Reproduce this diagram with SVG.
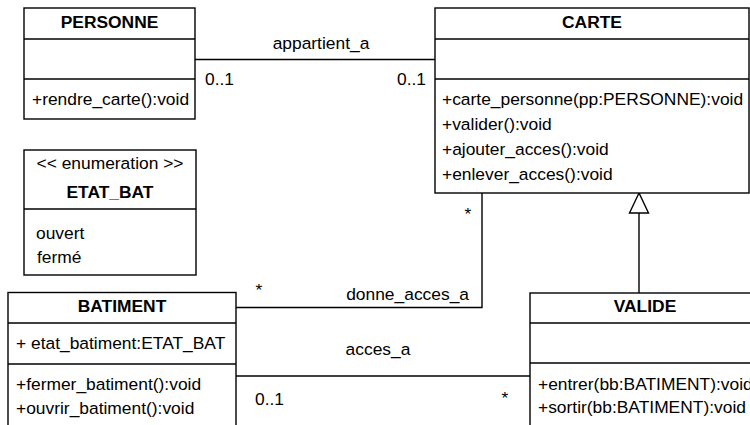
<svg xmlns="http://www.w3.org/2000/svg" width="750" height="425" viewBox="0 0 750 425">
<style>
.box{fill:#fff;stroke:#000;stroke-width:1.4}
.sep{stroke:#000;stroke-width:1.4}
.edge{fill:none;stroke:#000;stroke-width:1.4}
text{font-family:"Liberation Sans",Arial,Helvetica,sans-serif;font-size:17.4px;fill:#000}
.t{font-weight:bold;text-anchor:middle}
.c{text-anchor:middle}
.e{text-anchor:end}
</style>
<rect width="750" height="425" fill="#fff"/>
<g id="connectors">
<line class="edge" x1="195" y1="59.5" x2="435" y2="59.5"/>
<polyline class="edge" points="236,307.5 482,307.5 482,193"/>
<line class="edge" x1="236" y1="376" x2="530" y2="376"/>
<line class="edge" x1="639" y1="293" x2="639" y2="213"/>
<polygon points="639,193 629.5,213 648.5,213" fill="#fff" stroke="#000" stroke-width="1.4"/>
<text x="321" y="49" class="c">appartient_a</text>
<text x="205" y="85">0..1</text>
<text x="397" y="85">0..1</text>
<text x="469" y="300" class="e">donne_acces_a</text>
<text x="259" y="296" class="c">*</text>
<text x="468" y="220" class="c">*</text>
<text x="378" y="355" class="c">acces_a</text>
<text x="255" y="405">0..1</text>
<text x="505" y="404" class="c">*</text>
</g>
<g id="PERSONNE">
<rect class="box" x="24" y="8" width="171" height="111"/>
<line class="sep" x1="24" y1="39" x2="195" y2="39"/>
<line class="sep" x1="24" y1="79" x2="195" y2="79"/>
<text x="109.5" y="28" class="t">PERSONNE</text>
<text x="32" y="105">+rendre_carte():void</text>
</g>
<g id="CARTE">
<rect class="box" x="435" y="8" width="314" height="185"/>
<line class="sep" x1="435" y1="39" x2="749" y2="39"/>
<line class="sep" x1="435" y1="79" x2="749" y2="79"/>
<text x="592" y="28" class="t">CARTE</text>
<text x="442" y="105">+carte_personne(pp:PERSONNE):void</text>
<text x="442" y="130">+valider():void</text>
<text x="442" y="155">+ajouter_acces():void</text>
<text x="442" y="180">+enlever_acces():void</text>
</g>
<g id="ETAT_BAT">
<rect class="box" x="24" y="150" width="172" height="125"/>
<line class="sep" x1="24" y1="209" x2="196" y2="209"/>
<text x="110" y="169" class="c">&lt;&lt; enumeration &gt;&gt;</text>
<text x="110" y="198" class="t">ETAT_BAT</text>
<text x="36" y="239">ouvert</text>
<text x="37" y="263">fermé</text>
</g>
<g id="BATIMENT">
<rect class="box" x="8" y="292.5" width="228" height="150"/>
<line class="sep" x1="8" y1="323" x2="236" y2="323"/>
<line class="sep" x1="8" y1="364" x2="236" y2="364"/>
<text x="122" y="312" class="t">BATIMENT</text>
<text x="16" y="349">+ etat_batiment:ETAT_BAT</text>
<text x="16" y="390">+fermer_batiment():void</text>
<text x="16" y="414">+ouvrir_batiment():void</text>
</g>
<g id="VALIDE">
<rect class="box" x="530" y="293" width="230" height="150"/>
<line class="sep" x1="530" y1="323" x2="760" y2="323"/>
<line class="sep" x1="530" y1="363" x2="760" y2="363"/>
<text x="645" y="312" class="t">VALIDE</text>
<text x="538" y="390">+entrer(bb:BATIMENT):void</text>
<text x="538" y="413">+sortir(bb:BATIMENT):void</text>
</g>
</svg>
